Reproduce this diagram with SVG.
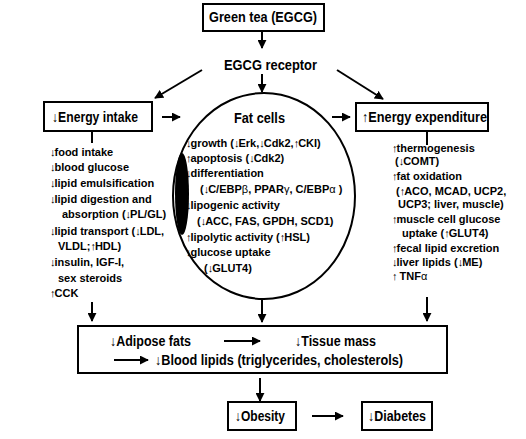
<svg xmlns="http://www.w3.org/2000/svg" width="526" height="439" viewBox="0 0 526 439">
<defs>
<marker id="ah" viewBox="0 0 10 10" refX="9" refY="5" markerWidth="9" markerHeight="9" markerUnits="userSpaceOnUse" orient="auto">
<path d="M0,0 L10,5 L0,10 z" fill="#000"/>
</marker>
<style>
text{font-family:"Liberation Sans",Arial,sans-serif;font-weight:bold;fill:#000}
.h{font-size:14px}
.b{font-size:11px}
.a{font-weight:normal;letter-spacing:-1px}
.g{font-weight:normal}
.box{fill:#fff;stroke:#000;stroke-width:2}
.ln{stroke:#000;stroke-width:2;fill:none}
.ar{stroke:#000;stroke-width:2;fill:none;marker-end:url(#ah)}
</style>
</defs>
<rect width="526" height="439" fill="#fff"/>
<g id="connectors">
<line class="ar" x1="262" y1="31" x2="262" y2="48"/>
<line class="ar" x1="262" y1="74" x2="262" y2="92"/>
<line class="ar" x1="202" y1="70" x2="155" y2="98"/>
<line class="ar" x1="337" y1="70" x2="383" y2="99"/>
<line class="ar" x1="162" y1="117" x2="180" y2="117"/>
<line class="ar" x1="332" y1="117" x2="350" y2="117"/>
<line class="ln" x1="92" y1="131" x2="92" y2="143"/>
<line class="ln" x1="427" y1="131" x2="427" y2="145"/>
<line class="ar" x1="92" y1="302" x2="92" y2="321"/>
<line class="ar" x1="262" y1="299" x2="262" y2="322"/>
<line class="ar" x1="427" y1="297" x2="427" y2="321"/>
<line class="ar" x1="260" y1="378" x2="260" y2="401"/>
<line class="ar" x1="312" y1="416" x2="343" y2="416"/>
</g>
<g id="green-tea">
<rect class="box" x="203" y="4" width="121" height="27"/>
<text class="h" x="209" y="22" textLength="108" lengthAdjust="spacingAndGlyphs">Green tea (EGCG)</text>
</g>
<g id="egcg-receptor">
<text class="h" x="224" y="70" textLength="93" lengthAdjust="spacingAndGlyphs">EGCG receptor</text>
</g>
<g id="energy-intake">
<rect class="box" x="44" y="102" width="108" height="29"/>
<text class="h" x="52" y="122" textLength="86" lengthAdjust="spacingAndGlyphs"><tspan class="g">↓</tspan>Energy intake</text>
<text class="b" x="50" y="156"><tspan class="a">↓</tspan>food intake</text>
<text class="b" x="50" y="171"><tspan class="a">↓</tspan>blood glucose</text>
<text class="b" x="50" y="187"><tspan class="a">↓</tspan>lipid emulsification</text>
<text class="b" x="50" y="203"><tspan class="a">↓</tspan>lipid digestion and</text>
<text class="b" x="62" y="218">absorption (<tspan class="a">↓</tspan>PL/GL)</text>
<text class="b" x="50" y="235"><tspan class="a">↓</tspan>lipid transport (<tspan class="a">↓</tspan>LDL,</text>
<text class="b" x="58" y="250">VLDL;<tspan class="a">↑</tspan>HDL)</text>
<text class="b" x="50" y="266"><tspan class="a">↓</tspan>insulin, IGF-I,</text>
<text class="b" x="58" y="282">sex steroids</text>
<text class="b" x="50" y="297"><tspan class="a">↑</tspan>CCK</text>
</g>
<g id="fat-cells">
<ellipse class="ln" cx="264" cy="196" rx="91" ry="103"/>
<ellipse cx="182" cy="194" rx="7" ry="41" fill="#000"/>
<text class="h" x="234" y="123" textLength="51" lengthAdjust="spacingAndGlyphs">Fat cells</text>
<text class="b" x="186" y="147"><tspan class="a">↓</tspan>growth (<tspan class="a">↓</tspan>Erk,<tspan class="a">↓</tspan>Cdk2,<tspan class="a">↑</tspan>CKI)</text>
<text class="b" x="186" y="162"><tspan class="a">↑</tspan>apoptosis (<tspan class="a">↓</tspan>Cdk2)</text>
<text class="b" x="186" y="177"><tspan class="a">↓</tspan>differentiation</text>
<text class="b" x="200" y="193">(<tspan class="a">↓</tspan>C/EBP<tspan class="g">β</tspan>, PPAR<tspan class="g">γ</tspan>, C/EBP<tspan class="g">α</tspan> )</text>
<text class="b" x="186" y="209"><tspan class="a">↓</tspan>lipogenic activity</text>
<text class="b" x="197" y="225">(<tspan class="a">↓</tspan>ACC, FAS, GPDH, SCD1)</text>
<text class="b" x="186" y="241"><tspan class="a">↑</tspan>lipolytic activity (<tspan class="a">↑</tspan>HSL)</text>
<text class="b" x="186" y="256"><tspan class="a">↓</tspan>glucose uptake</text>
<text class="b" x="204" y="272">(<tspan class="a">↓</tspan>GLUT4)</text>
</g>
<g id="energy-expenditure">
<rect class="box" x="356" y="103" width="132" height="28"/>
<text class="h" x="362" y="122" textLength="125" lengthAdjust="spacingAndGlyphs"><tspan class="g">↑</tspan>Energy expenditure</text>
<text class="b" x="392" y="152"><tspan class="a">↑</tspan>thermogenesis</text>
<text class="b" x="395" y="165">(<tspan class="a">↓</tspan>COMT)</text>
<text class="b" x="392" y="180"><tspan class="a">↑</tspan>fat oxidation</text>
<text class="b" x="396" y="195">(<tspan class="a">↑</tspan>ACO, MCAD, UCP2,</text>
<text class="b" x="398" y="208">UCP3; liver, muscle)</text>
<text class="b" x="392" y="223"><tspan class="a">↑</tspan>muscle cell glucose</text>
<text class="b" x="402" y="237">uptake (<tspan class="a">↑</tspan>GLUT4)</text>
<text class="b" x="392" y="252"><tspan class="a">↑</tspan>fecal lipid excretion</text>
<text class="b" x="392" y="266"><tspan class="a">↓</tspan>liver lipids (<tspan class="a">↓</tspan>ME)</text>
<text class="b" x="392" y="280"><tspan class="a">↑</tspan> TNF<tspan class="g">α</tspan></text>
</g>
<g id="outcomes">
<rect class="box" x="78" y="326" width="369" height="47"/>
<text class="h" x="110" y="346" textLength="81" lengthAdjust="spacingAndGlyphs"><tspan class="g">↓</tspan>Adipose fats</text>
<line class="ar" x1="224" y1="341" x2="260" y2="341"/>
<text class="h" x="295" y="346" textLength="81" lengthAdjust="spacingAndGlyphs"><tspan class="g">↓</tspan>Tissue mass</text>
<line class="ar" x1="114" y1="360" x2="148" y2="360"/>
<text class="h" x="155" y="365" textLength="248" lengthAdjust="spacingAndGlyphs"><tspan class="g">↓</tspan>Blood lipids (triglycerides, cholesterols)</text>
</g>
<g id="obesity">
<rect class="box" x="228" y="402" width="68" height="28"/>
<text class="h" x="235" y="421" textLength="50" lengthAdjust="spacingAndGlyphs"><tspan class="g">↓</tspan>Obesity</text>
</g>
<g id="diabetes">
<rect class="box" x="362" y="402" width="70" height="28"/>
<text class="h" x="368" y="421" textLength="58" lengthAdjust="spacingAndGlyphs"><tspan class="g">↓</tspan>Diabetes</text>
</g>
</svg>
